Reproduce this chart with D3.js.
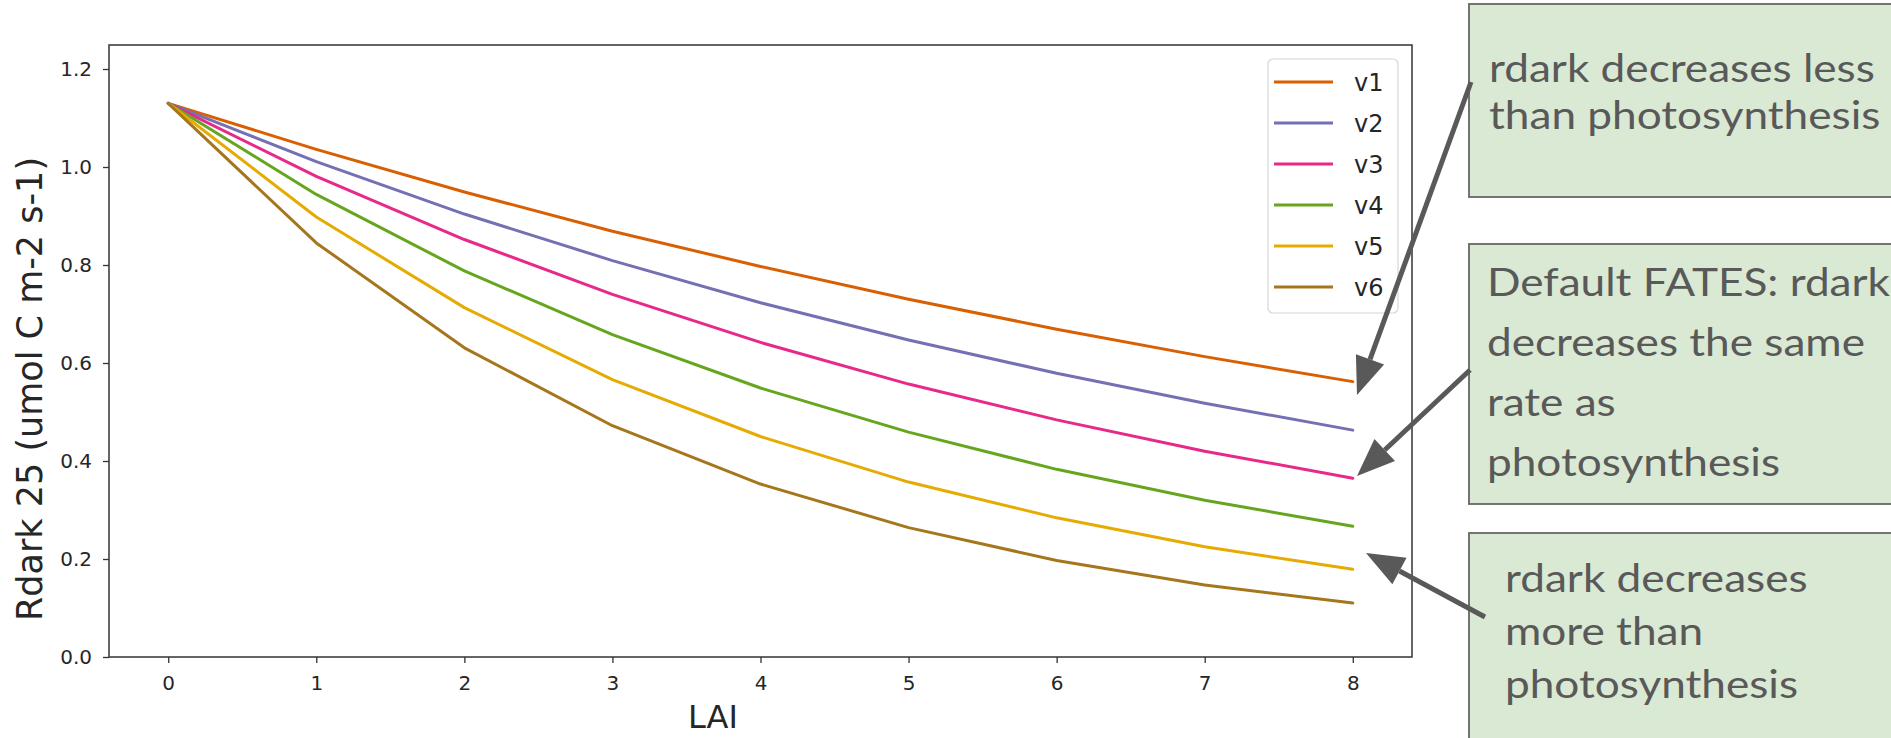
<!DOCTYPE html>
<html>
<head>
<meta charset="utf-8">
<script src="https://cdn.jsdelivr.net/npm/d3@7"></script>
<style>
  body { margin: 0; background: #fff; }
  svg { display: block; }
</style>
</head>
<body>
<svg></svg>
<script>
var width = 1891;
var height = 738;

// values
const lai = [0, 1, 2, 3, 4, 5, 6, 7, 8];
const v1 = [1.13, 1.036, 0.949, 0.869, 0.797, 0.730, 0.669, 0.613, 0.562];
const v2 = [1.13, 1.011, 0.904, 0.809, 0.723, 0.647, 0.579, 0.518, 0.463];
const v3 = [1.13, 0.981, 0.852, 0.740, 0.642, 0.557, 0.484, 0.420, 0.365];
const v4 = [1.13, 0.944, 0.788, 0.658, 0.549, 0.459, 0.383, 0.320, 0.267];
const v5 = [1.13, 0.898, 0.713, 0.566, 0.450, 0.357, 0.284, 0.225, 0.179];
const v6 = [1.13, 0.845, 0.631, 0.472, 0.353, 0.264, 0.197, 0.147, 0.110];
const seriesNames = ["v1", "v2", "v3", "v4", "v5", "v6"];
const seriesValues = [v1, v2, v3, v4, v5, v6];
const color = ["#d95f02", "#7570b3", "#e7298a", "#66a61e", "#e6ab02", "#a6761d"];
const yTicks = [0.0, 0.2, 0.4, 0.6, 0.8, 1.0, 1.2];
const xTicks = [0, 1, 2, 3, 4, 5, 6, 7, 8];

const notes = [
    ["rdark decreases less", "than photosynthesis"],
    ["Default FATES: rdark", "decreases the same", "rate as", "photosynthesis"],
    ["rdark decreases", "more than", "photosynthesis"]
];

const svg = d3.select('svg')
    .attr('width', width)
    .attr('height', height);

const x = d3.scaleLinear().domain([-0.4, 8.4]).range([109, 1412]);
const y = d3.scaleLinear().domain([0, 1.249]).range([657, 45]);

const tickFont = "DejaVu Sans, sans-serif";

// axes
const gx = svg.append("g")
    .attr("transform", `translate(0,${y(0)})`)
    .call(d3.axisBottom(x).tickValues(xTicks).tickFormat(d3.format("d"))
        .tickSize(6).tickSizeOuter(0).tickPadding(13));
const gy = svg.append("g")
    .attr("transform", `translate(${x(-0.4)},0)`)
    .call(d3.axisLeft(y).tickValues(yTicks).tickFormat(d3.format(".1f"))
        .tickSize(6).tickSizeOuter(0).tickPadding(11));
[gx, gy].forEach(g => {
    g.select(".domain").remove();
    g.selectAll("line").attr("stroke", "#333").attr("stroke-width", 1.3);
    g.selectAll("text").attr("font-family", tickFont).attr("font-size", 20).attr("fill", "#262626");
});

// lines
const line = d3.line()
    .x((d, i) => x(lai[i]))
    .y(d => y(d));
svg.append("g").selectAll("path")
    .data(seriesValues)
    .join("path")
    .attr("d", d => line(d))
    .attr("fill", "none")
    .attr("stroke", (d, i) => color[i])
    .attr("stroke-width", 3)
    .attr("stroke-linejoin", "round")
    .attr("stroke-linecap", "round");

// frame
svg.append("rect")
    .attr("x", x(-0.4)).attr("y", y(1.249))
    .attr("width", x(8.4) - x(-0.4)).attr("height", y(0) - y(1.249))
    .attr("fill", "none").attr("stroke", "#333").attr("stroke-width", 1.5);

// axis titles
svg.append("text")
    .attr("x", 713).attr("y", 728)
    .attr("text-anchor", "middle")
    .attr("font-family", tickFont).attr("font-size", 32).attr("fill", "#262626")
    .text("LAI");
svg.append("text")
    .attr("transform", "translate(42,389) rotate(-90)")
    .attr("text-anchor", "middle")
    .attr("font-family", tickFont).attr("font-size", 35).attr("fill", "#262626")
    .text("Rdark 25 (umol C m-2 s-1)");

// legend
const legend = svg.append("g");
legend.append("rect")
    .attr("x", 1268).attr("y", 59).attr("width", 130).attr("height", 254)
    .attr("rx", 5).attr("fill", "#fff").attr("stroke", "#d6d6d6").attr("stroke-width", 1.2);
const item = legend.selectAll("g")
    .data(seriesNames)
    .join("g")
    .attr("transform", (d, i) => `translate(1274,${82 + i * 41})`);
item.append("line")
    .attr("x1", 0).attr("x2", 59)
    .attr("stroke", (d, i) => color[i]).attr("stroke-width", 3);
item.append("text")
    .attr("x", 80).attr("dy", "0.36em")
    .attr("font-family", tickFont).attr("font-size", 24).attr("fill", "#262626")
    .text(d => d);

// annotation boxes (baselines per line)
const boxes = [
    { x: 1469, y: 4, w: 430, h: 193, tx: 1489, base: [82, 129] },
    { x: 1469, y: 244, w: 430, h: 260, tx: 1487, base: [296, 356, 416, 476] },
    { x: 1469, y: 533, w: 430, h: 220, tx: 1505, base: [592, 645, 698] }
];
const noteG = svg.append("g");
boxes.forEach((b, i) => {
    noteG.append("rect")
        .attr("x", b.x).attr("y", b.y).attr("width", b.w).attr("height", b.h)
        .attr("fill", "#d9e9d3").attr("stroke", "#666").attr("stroke-width", 1.8);
    const t = noteG.append("g").attr("class", "note").attr("data-x", b.tx);
    notes[i].forEach((s, j) => {
        t.append("text")
            .attr("x", 0).attr("y", b.base[j])
            .attr("font-family", "Lato, 'Open Sans', sans-serif")
            .attr("font-size", 38).attr("fill", "#595959")
            .text(s);
    });
});
// stretch note text to the width seen in the picture
const ref = noteG.select("g.note text").node().getComputedTextLength();
const sx = 386 / ref;
noteG.selectAll("g.note").attr("transform", function() {
    return `translate(${this.getAttribute("data-x")},0) scale(${sx},1)`;
});

// arrows
const arrows = [
    { x1: 1471, y1: 82, x2: 1357, y2: 395 },
    { x1: 1470, y1: 370, x2: 1357, y2: 476 },
    { x1: 1485, y1: 617, x2: 1366, y2: 553 }
];
const arrowG = svg.append("g");
arrows.forEach(a => {
    const ang = Math.atan2(a.y2 - a.y1, a.x2 - a.x1);
    const hl = 38, hw = 15;
    const bx = a.x2 - hl * Math.cos(ang), by = a.y2 - hl * Math.sin(ang);
    arrowG.append("line")
        .attr("x1", a.x1).attr("y1", a.y1).attr("x2", bx).attr("y2", by)
        .attr("stroke", "#595959").attr("stroke-width", 5);
    const px = -Math.sin(ang), py = Math.cos(ang);
    arrowG.append("polygon")
        .attr("points", [[a.x2, a.y2], [bx + px * hw, by + py * hw], [bx - px * hw, by - py * hw]].map(p => p.join(",")).join(" "))
        .attr("fill", "#595959");
});
</script>
</body>
</html>
